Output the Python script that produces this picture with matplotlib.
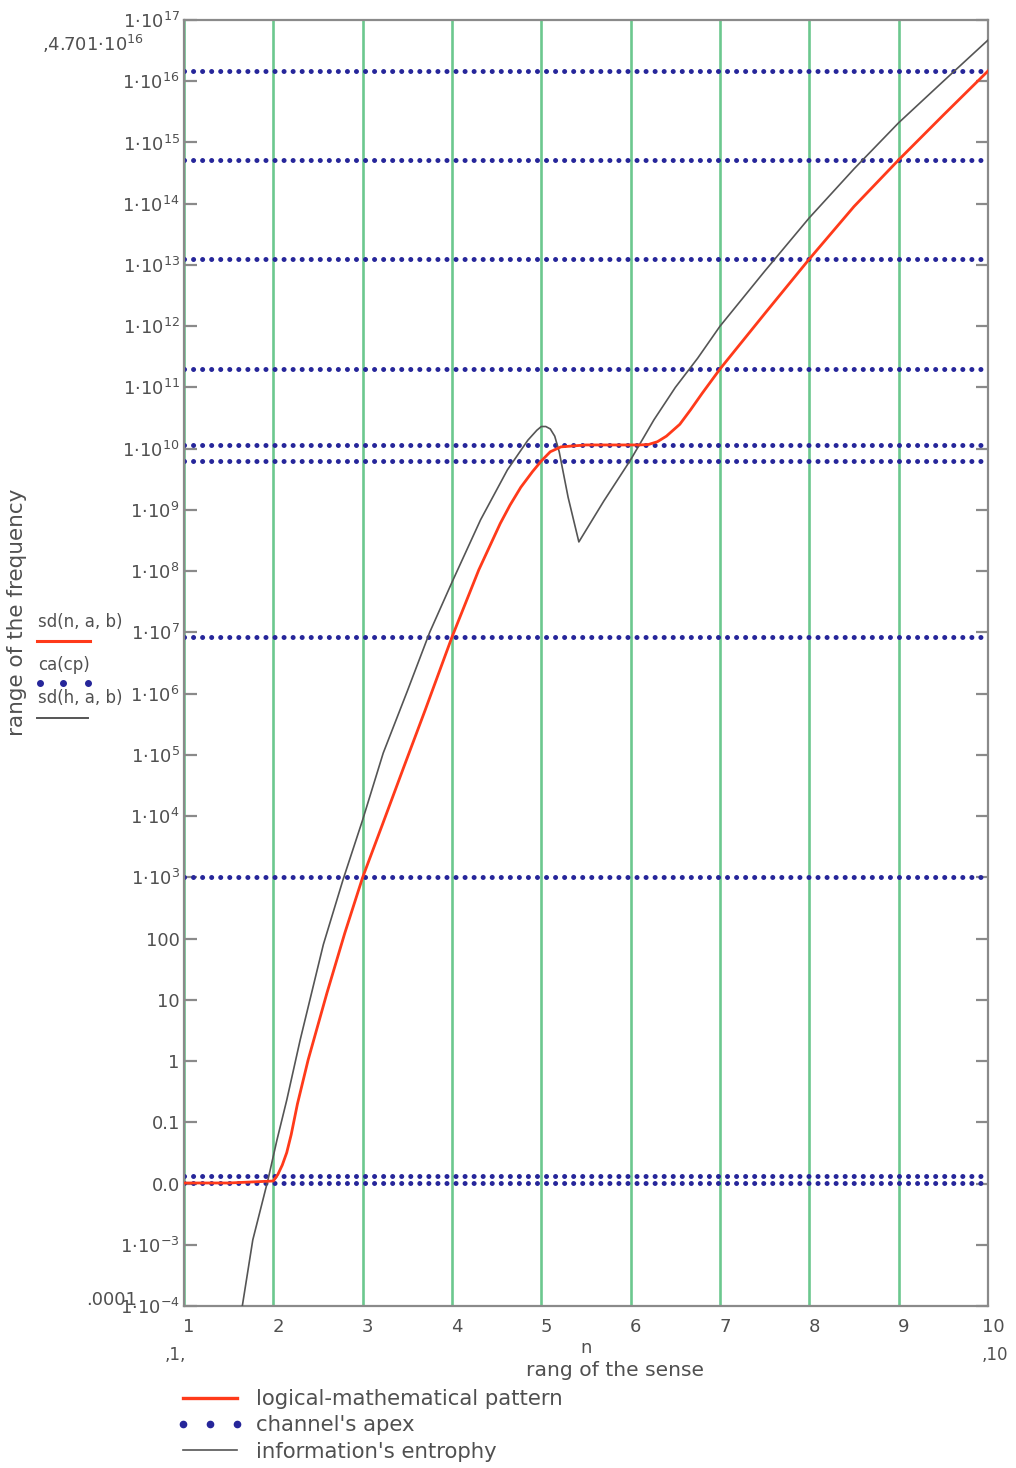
import matplotlib
matplotlib.use("Agg")
import matplotlib.pyplot as plt
from matplotlib.lines import Line2D
from matplotlib.transforms import ScaledTranslation

# ---------------- data ----------------
apex_n = [1, 2, 3, 4, 5, 6, 7, 8, 9, 10]
apex_v = [1.02e-2, 1.35e-2, 1.0e3, 8.4e6, 6.3e9, 1.15e10, 2.0e11, 1.25e13, 5.2e14, 1.47e16]

red_n = [1.0, 1.5, 2.0, 2.05, 2.10, 2.15, 2.20, 2.27, 2.39, 2.60, 2.80, 3.0, 3.22,
         3.46, 3.70, 4.0, 4.30, 4.54, 4.65, 4.77, 4.90, 5.0, 5.10, 5.22, 5.5, 5.8,
         6.0, 6.10, 6.20, 6.30, 6.40, 6.55, 6.67, 6.80, 7.0, 7.5, 8.0, 8.5, 9.0,
         9.5, 10.0]
red_v = [1.02e-2, 1.02e-2, 1.1e-2, 1.4e-2, 2.0e-2, 3.2e-2, 6.3e-2, 0.2, 1.05, 12.9,
         123, 1.0e3, 7.2e3, 6.3e4, 5.4e5, 8.4e6, 1.05e8, 6.0e8, 1.2e9, 2.34e9,
         4.2e9, 6.3e9, 8.9e9, 1.07e10, 1.15e10, 1.15e10, 1.15e10, 1.15e10, 1.17e10,
         1.3e10, 1.6e10, 2.5e10, 4.3e10, 8.0e10, 2.0e11, 1.6e12, 1.25e13, 9.0e13,
         5.2e14, 2.8e15, 1.47e16]

blk_n = [1.62, 1.77, 1.94, 2.04, 2.15, 2.30, 2.56, 2.78, 3.0, 3.23, 3.50, 3.75, 4.0,
         4.32, 4.62, 4.85, 4.95, 5.0, 5.05, 5.10, 5.15, 5.20, 5.30, 5.42, 5.70,
         6.0, 6.26, 6.50, 6.75, 7.0, 7.5, 8.0, 8.5, 9.0, 9.5, 10.0]
blk_v = [5e-5, 1.2e-3, 1.15e-2, 5.1e-2, 0.23, 2.2, 80, 912, 8.7e3, 1.07e5, 1.1e6,
         1.0e7, 6.6e7, 6.9e8, 4.5e9, 1.38e10, 2.0e10, 2.3e10, 2.3e10, 2.1e10,
         1.6e10, 8.9e9, 1.6e9, 3.0e8, 1.4e9, 6.6e9, 2.95e10, 1.0e11, 3.0e11, 1.0e12,
         7.9e12, 5.9e13, 3.7e14, 2.1e15, 1.0e16, 4.7e16]

ytick_vals = [1e-4, 1e-3, 1e-2, 1e-1, 1, 10, 100, 1e3, 1e4, 1e5, 1e6, 1e7, 1e8,
              1e9, 1e10, 1e11, 1e12, 1e13, 1e14, 1e15, 1e16, 1e17]
ytick_labels = ["1·10$^{-4}$", "1·10$^{-3}$", "0.0", "0.1", "1", "10", "100",
                "1·10$^{3}$", "1·10$^{4}$", "1·10$^{5}$", "1·10$^{6}$", "1·10$^{7}$",
                "1·10$^{8}$", "1·10$^{9}$", "1·10$^{10}$", "1·10$^{11}$", "1·10$^{12}$",
                "1·10$^{13}$", "1·10$^{14}$", "1·10$^{15}$", "1·10$^{16}$", "1·10$^{17}$"]
xtick_vals = [1, 2, 3, 4, 5, 6, 7, 8, 9, 10]
xtick_labels = ["1", "2", "3", "4", "5", "6", "7", "8", "9", "10"]

legend_labels = ["logical-mathematical pattern", "channel's apex", "information's entrophy"]

# ---------------- style ----------------
W, H = 1016, 1468
plt.rcParams['font.family'] = ['DejaVu Sans']
plt.rcParams['mathtext.fontset'] = 'dejavusans'
TXT = '#505050'
SP = '#8a8a8a'
RED = '#ff3a1a'
BLUE = '#26269a'
GREEN = '#6cc88e'
BLK = '#555555'

def fx(px):
    return px / W

def fy(py):
    return 1 - py / H

fig = plt.figure(figsize=(W / 100, H / 100), dpi=100)
ax = fig.add_axes([fx(184), fy(1306), fx(988) - fx(184), fy(20) - fy(1306)])

ax.set_yscale('log')
ax.set_xlim(1, 10)
ax.set_ylim(1e-4, 1e17)

# vertical green grid lines
ax.set_xticks(xtick_vals)
ax.set_xticklabels(xtick_labels)
ax.grid(axis='x', color=GREEN, lw=1.9, zorder=1)
ax.grid(axis='y', visible=False)

# channel's apex dotted lines
ax.hlines(apex_v, 1, 9.95, colors=BLUE, lw=3.6, linestyles=(0, (0.01, 1.8)),
          capstyle='round', zorder=2)

# curves
ax.plot(blk_n, blk_v, color=BLK, lw=1.2, zorder=3)
ax.plot(red_n, red_v, color=RED, lw=2.0, zorder=4)

ax.set_yticks(ytick_vals)
ax.set_yticklabels(ytick_labels)
ax.minorticks_off()

for s in ax.spines.values():
    s.set_color(SP)
    s.set_linewidth(1.6)

ax.tick_params(axis='y', which='major', direction='in', length=9, width=1.6,
               color=SP, left=True, right=True, labelsize=13, labelcolor=TXT, pad=3)
ax.tick_params(axis='x', which='major', length=0, labelsize=13, labelcolor=TXT, pad=9)
shift = ScaledTranslation(5 / 100, 0, fig.dpi_scale_trans)
for lab in ax.get_xticklabels():
    lab.set_transform(lab.get_transform() + shift)

# axis texts
ax.set_xlabel("n", fontsize=13, color=TXT, labelpad=2)
fig.text(fx(615), fy(1371), "rang of the sense", fontsize=14.6, color=TXT,
         ha='center', va='center')
fig.text(fx(175), fy(1355), ",1,", fontsize=12, color=TXT, ha='center', va='center')
fig.text(fx(995), fy(1355), ",10", fontsize=12, color=TXT, ha='center', va='center')
fig.text(fx(17), fy(612), "range of the frequency", fontsize=15.5, color=TXT,
         rotation=90, ha='center', va='center')
fig.text(fx(42), fy(44), ",4.701·10$^{16}$", fontsize=13, color=TXT,
         ha='left', va='center')
fig.text(fx(86), fy(1300), ".0001", fontsize=13, color=TXT, ha='left', va='center')

# left Mathcad-style trace legend
fig.text(fx(38), fy(622), "sd(n, a, b)", fontsize=12, color=TXT, ha='left', va='center')
fig.add_artist(Line2D([fx(37), fx(90)], [fy(641), fy(641)], transform=fig.transFigure,
                      color=RED, lw=2.2))
fig.text(fx(38), fy(665), "ca(cp)", fontsize=12, color=TXT, ha='left', va='center')
fig.add_artist(Line2D([fx(40), fx(63), fx(88)], [fy(683)] * 3, transform=fig.transFigure,
                      color=BLUE, ls='none', marker='o', ms=4))
fig.text(fx(38), fy(698), "sd(h, a, b)", fontsize=12, color=TXT, ha='left', va='center')
fig.add_artist(Line2D([fx(37), fx(88)], [fy(718), fy(718)], transform=fig.transFigure,
                      color=BLK, lw=1.4))

# bottom legend
handles = [Line2D([], [], color=RED, lw=2.4),
           Line2D([], [], color=BLUE, ls='none', marker='o', ms=4.5),
           Line2D([], [], color=BLK, lw=1.2)]
leg = fig.legend(handles, legend_labels, loc='upper left',
                 bbox_to_anchor=(fx(177), fy(1389)), frameon=False, fontsize=15.3,
                 handlelength=3.13, handletextpad=0.6, labelspacing=0.3,
                 numpoints=3, borderaxespad=0, borderpad=0)
for t in leg.get_texts():
    t.set_color(TXT)

fig.savefig("out.png", dpi=100)
